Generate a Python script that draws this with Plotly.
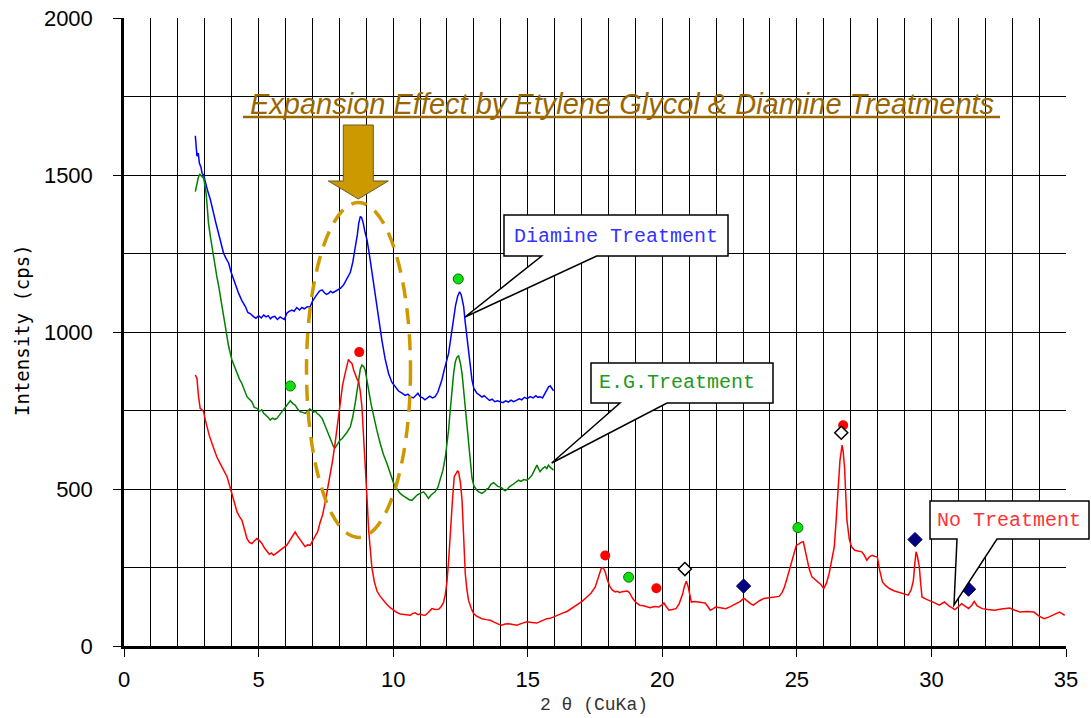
import plotly.graph_objects as go

# ---------------- data ----------------
blue_x = [2.65, 2.71, 2.76, 2.80, 2.86, 2.90, 2.96, 3.02, 3.10, 3.21, 3.27, 3.33, 3.40, 3.45, 3.52, 3.58, 3.64, 3.70,
          3.78, 3.89, 3.98, 4.07, 4.16, 4.26, 4.38, 4.51, 4.60, 4.70, 4.81, 4.90, 5.00, 5.10, 5.19, 5.28, 5.36, 5.44,
          5.50, 5.60, 5.70, 5.80, 5.87, 5.96, 6.05, 6.12, 6.24, 6.32, 6.42, 6.52, 6.61, 6.70, 6.80, 6.92, 7.00, 7.10,
          7.17, 7.26, 7.36, 7.45, 7.52, 7.60, 7.68, 7.76, 7.85, 7.95, 8.05, 8.16, 8.28, 8.41, 8.50, 8.60, 8.67, 8.72,
          8.78, 8.83, 8.88, 8.95, 9.03, 9.12, 9.21, 9.30, 9.40, 9.49, 9.58, 9.70, 9.83, 9.95, 10.08, 10.20, 10.33,
          10.45, 10.55, 10.64, 10.75, 10.85, 10.92, 11.00, 11.10, 11.18, 11.26, 11.36, 11.46, 11.56, 11.66, 11.74,
          11.81, 11.90, 11.98, 12.06, 12.15, 12.24, 12.32, 12.40, 12.47, 12.53, 12.58, 12.62, 12.68, 12.74, 12.82,
          12.88, 12.93, 13.00, 13.11, 13.20, 13.30, 13.38, 13.48, 13.58, 13.68, 13.78, 13.88, 13.98, 14.08, 14.18,
          14.28, 14.38, 14.47, 14.58, 14.68, 14.78, 14.88, 14.98, 15.09, 15.20, 15.30, 15.38, 15.46, 15.55, 15.62,
          15.71, 15.78, 15.84, 15.90, 15.96]
blue_y = [1625, 1560, 1570, 1538, 1525, 1506, 1500, 1475, 1452, 1421, 1395, 1378, 1352, 1336, 1318, 1293, 1276, 1251,
          1236, 1219, 1190, 1166, 1145, 1123, 1100, 1081, 1062, 1058, 1049, 1044, 1052, 1045, 1054, 1048, 1052, 1042,
          1047, 1050, 1040, 1048, 1044, 1040, 1060, 1065, 1070, 1066, 1078, 1070, 1078, 1074, 1080, 1081, 1098, 1113,
          1120, 1130, 1134, 1125, 1120, 1123, 1130, 1125, 1129, 1135, 1140, 1150, 1170, 1190, 1222, 1270, 1310, 1345,
          1368, 1364, 1350, 1320, 1293, 1245, 1198, 1140, 1081, 1025, 975, 915, 868, 840, 826, 812, 805,
          798, 802, 794, 790, 798, 805, 794, 790, 784, 789, 796, 790, 794, 808, 826,
          847, 880, 905, 932, 985, 1038, 1085, 1115, 1128, 1118, 1100, 1081, 1030, 985, 920,
          875, 847, 820, 805, 800, 793, 797, 789, 782, 786, 778, 781, 778, 775, 781,
          777, 783, 778, 782, 787, 784, 792, 788, 794, 790, 797, 792, 794, 790, 800,
          815, 826, 828, 818, 813]

green_x = [2.65, 2.70, 2.76, 2.82, 2.88, 2.96, 3.00, 3.05, 3.10, 3.14, 3.21, 3.27, 3.33, 3.40, 3.45, 3.52, 3.58, 3.64,
           3.70, 3.79, 3.89, 4.01, 4.10, 4.20, 4.29, 4.38, 4.48, 4.57, 4.66, 4.75, 4.84, 4.94, 5.04, 5.12, 5.19, 5.28,
           5.36, 5.43, 5.52, 5.60, 5.68, 5.78, 5.87, 5.93, 5.99, 6.08, 6.18, 6.27, 6.36, 6.45, 6.55, 6.64, 6.73, 6.83,
           6.90, 6.96, 7.05, 7.12, 7.17, 7.26, 7.36, 7.45, 7.54, 7.63, 7.73, 7.79, 7.85, 7.94, 8.03, 8.10, 8.16, 8.28,
           8.41, 8.50, 8.59, 8.66, 8.72, 8.78, 8.84, 8.90, 8.96, 9.03, 9.09, 9.18, 9.27, 9.40, 9.52, 9.64, 9.77, 9.90,
           10.02, 10.14, 10.26, 10.38, 10.51, 10.60, 10.70, 10.80, 10.88, 11.00, 11.13, 11.22, 11.31, 11.40, 11.50,
           11.56, 11.66, 11.75, 11.85, 11.94, 12.00, 12.06, 12.12, 12.18, 12.25, 12.31, 12.37, 12.43, 12.50, 12.56,
           12.62, 12.68, 12.74, 12.80, 12.86, 12.93, 13.00, 13.11, 13.20, 13.30, 13.40, 13.48, 13.54, 13.63, 13.73,
           13.82, 13.90, 13.98, 14.07, 14.16, 14.25, 14.33, 14.41, 14.50, 14.58, 14.66, 14.75, 14.85, 14.97, 15.06,
           15.16, 15.25, 15.34, 15.40, 15.46, 15.55, 15.65, 15.71, 15.77, 15.85, 15.96]
green_y = [1447, 1470, 1492, 1502, 1496, 1490, 1470, 1442, 1390, 1346, 1304, 1270, 1240, 1210, 1176, 1145, 1113, 1080,
           1049, 1006, 953, 911, 890, 868, 850, 836, 810, 794, 786, 778, 760, 757, 748, 752, 741, 735,
           728, 720, 726, 722, 725, 736, 746, 755, 762, 772, 781, 772, 767, 755, 746, 744, 741, 748,
           755, 751, 745, 748, 741, 735, 725, 706, 688, 665, 645, 634, 632, 645, 656, 660, 666, 680,
           698, 730, 773, 820, 857, 882, 895, 890, 879, 850, 815, 770, 730, 685, 645, 610, 581, 550,
           518, 500, 486, 478, 470, 466, 464, 472, 480, 486, 491, 482, 470, 480, 488,
           491, 505, 528, 560, 602, 640, 688, 750, 815, 870, 905, 920, 924, 900, 868,
           815, 762, 700, 634, 580, 535, 510, 496, 490, 486, 492, 500, 502, 515, 520,
           512, 508, 507, 500, 494, 500, 508, 512, 518, 524, 528, 524, 530, 528, 534,
           544, 560, 576, 565, 555, 565, 571, 565, 576, 568, 560]

red_x = [2.65, 2.71, 2.77, 2.83, 2.90, 2.96, 3.02, 3.08, 3.17, 3.27, 3.36, 3.45, 3.55, 3.64, 3.74, 3.83, 3.92, 4.01,
         4.10, 4.20, 4.29, 4.38, 4.48, 4.57, 4.66, 4.75, 4.85, 4.94, 5.04, 5.13, 5.22, 5.31, 5.40, 5.48, 5.56, 5.65,
         5.73, 5.81, 5.93, 6.05, 6.15, 6.24, 6.30, 6.36, 6.45, 6.55, 6.64, 6.73, 6.82, 6.92, 7.04, 7.11, 7.20, 7.29,
         7.38, 7.48, 7.57, 7.66, 7.75, 7.85, 7.94, 8.03, 8.12, 8.22, 8.28, 8.34, 8.40, 8.47, 8.53, 8.59, 8.66, 8.72,
         8.78, 8.84, 8.90, 8.96, 9.03, 9.09, 9.15, 9.21, 9.30, 9.40, 9.52, 9.64, 9.76, 9.89, 10.00, 10.13, 10.26,
         10.38, 10.50, 10.64, 10.73, 10.82, 10.92, 11.00, 11.10, 11.19, 11.30, 11.44, 11.56, 11.69, 11.78, 11.87,
         11.94, 12.00, 12.06, 12.12, 12.20, 12.27, 12.33, 12.39, 12.43, 12.50, 12.56, 12.62, 12.68, 12.74, 12.80,
         12.90, 12.99, 13.10, 13.20, 13.30, 13.45, 13.61, 13.75, 13.86, 13.95, 14.04, 14.16, 14.29, 14.45, 14.60,
         14.78, 14.97, 15.15, 15.34, 15.52, 15.71, 15.84, 16.08, 16.27, 16.46, 16.64, 16.83, 17.02, 17.20, 17.35,
         17.51, 17.60, 17.67, 17.73, 17.80, 17.88, 17.96, 18.06, 18.15, 18.25, 18.33, 18.42, 18.50, 18.60, 18.71,
         18.78, 18.90, 19.03, 19.16, 19.30, 19.45, 19.55, 19.70, 19.87, 20.00, 20.06, 20.15, 20.25, 20.38, 20.51,
         20.63, 20.76, 20.82, 20.89, 20.96, 21.02, 21.08, 21.20, 21.34, 21.45, 21.59, 21.70, 21.78, 21.88, 21.98,
         22.15, 22.36, 22.55, 22.75, 22.90, 23.00, 23.06, 23.12, 23.19, 23.29, 23.38, 23.50, 23.63, 23.77, 23.95,
         24.15, 24.34, 24.45, 24.54, 24.65, 24.79, 24.90, 24.98, 25.08, 25.16, 25.24, 25.30, 25.36, 25.46, 25.56,
         25.68, 25.81, 25.90, 26.00, 26.10, 26.20, 26.30, 26.39, 26.46, 26.52, 26.60, 26.68, 26.72, 26.77, 26.82,
         26.86, 26.95, 27.03, 27.15, 27.28, 27.41, 27.50, 27.60, 27.70, 27.80, 27.90, 27.99, 28.08, 28.18, 28.30,
         28.44, 28.60, 28.76, 28.95, 29.14, 29.25, 29.33, 29.38, 29.43, 29.48, 29.55, 29.60, 29.65, 29.78, 29.91,
         30.10, 30.29, 30.40, 30.48, 30.65, 30.87, 31.00, 31.12, 31.25, 31.38, 31.50, 31.59, 31.70, 31.89, 32.10,
         32.34, 32.60, 32.91, 33.10, 33.30, 33.55, 33.81, 34.00, 34.19, 34.35, 34.51, 34.65, 34.76, 34.85, 34.95]
red_y = [863, 852, 794, 757, 752, 746, 720, 698, 670, 645, 622, 602, 585, 571, 555, 539, 512, 486,
         455, 427, 412, 401, 370, 342, 330, 326, 335, 342, 335, 326, 312, 300, 292, 296, 289, 295,
         300, 305, 312, 321, 335, 347, 358, 363, 350, 337, 325, 316, 322, 321, 340, 353, 365, 395,
         418, 460, 500, 539, 590, 650, 710, 770, 830, 870, 895, 913, 905, 900, 880, 863, 850, 842,
         810, 762, 680, 581, 470, 369, 305, 250, 205, 175, 158, 144, 133, 122, 114, 107, 102,
         100, 99, 98, 104, 106, 100, 102, 99, 98, 106, 119, 116, 117, 125, 138,
         165, 205, 270, 369, 460, 539, 550, 557, 555, 520, 464, 340, 231, 180, 146,
         120, 103, 95, 90, 87, 84, 82, 76, 71, 68, 66, 70, 71, 68, 66,
         72, 77, 75, 73, 80, 87, 88, 98, 104, 110, 120, 130, 142, 156, 168,
         188, 210, 231, 247, 250, 236, 210, 188, 178, 172, 174, 170, 173, 175, 175,
         170, 151, 138, 130, 128, 125, 122, 126, 124, 132, 137, 125, 114, 116, 119,
         135, 167, 190, 206, 190, 167, 140, 142, 140, 138, 137, 125, 114, 118, 124,
         122, 119, 126, 135, 142, 150, 151, 146, 140, 134, 130, 138, 145, 151, 153,
         155, 158, 170, 188, 220, 263, 300, 321, 325, 330, 332, 310, 284, 245, 220,
         212, 204, 195, 183, 200, 231, 270, 316, 400, 496, 590, 640, 620, 571, 480,
         401, 340, 316, 305, 303, 300, 290, 273, 285, 289, 285, 284, 240, 204, 192,
         183, 176, 172, 165, 162, 180, 209, 260, 300, 285, 252, 200, 156, 150, 146,
         138, 130, 136, 140, 128, 116, 125, 135, 127, 119, 130, 142, 128, 119, 116,
         114, 118, 121, 114, 108, 110, 108, 95, 87, 92, 98, 104, 108, 103, 98]

# peak markers
green_dot_x = [6.18, 12.42, 18.75, 25.04]
green_dot_y = [828, 1169, 219, 377]
red_dot_x = [8.74, 17.88, 19.78, 26.72]
red_dot_y = [936, 288, 184, 703]
white_dia_x = [20.84, 26.65]
white_dia_y = [245, 679]
navy_dia_x = [23.02, 29.39, 31.38]
navy_dia_y = [191, 339, 181]

x_ticks = [0, 5, 10, 15, 20, 25, 30, 35]
y_ticks = [0, 500, 1000, 1500, 2000]

title_text = "Expansion Effect by Etylene Glycol & Diamine Treatments"
x_title = "2 θ (CuKa)"
y_title = "Intensity (cps)"

# ---------------- figure ----------------
W, H = 1091, 718
L, R, T, B = 124, 1066, 18, 646


def px(x):
    return (x - L) / (R - L)


def py(y):
    return (B - y) / (B - T)


fig = go.Figure()
fig.add_trace(go.Scatter(x=blue_x, y=blue_y, mode="lines", line=dict(color="#0000FF", width=1.5),
                         name="Diamine Treatment"))
fig.add_trace(go.Scatter(x=green_x, y=green_y, mode="lines", line=dict(color="#008000", width=1.5),
                         name="E.G.Treatment"))
fig.add_trace(go.Scatter(x=red_x, y=red_y, mode="lines", line=dict(color="#FF0000", width=1.5),
                         name="No Treatment"))
fig.add_trace(go.Scatter(x=green_dot_x, y=green_dot_y, mode="markers",
                         marker=dict(symbol="circle", size=10, color="#11DD11", line=dict(color="#007700", width=1))))
fig.add_trace(go.Scatter(x=red_dot_x, y=red_dot_y, mode="markers",
                         marker=dict(symbol="circle", size=10, color="#FF0000", line=dict(color="#FF0000", width=0))))
fig.add_trace(go.Scatter(x=white_dia_x, y=white_dia_y, mode="markers",
                         marker=dict(symbol="diamond", size=10, color="white", line=dict(color="black", width=1.5))))
fig.add_trace(go.Scatter(x=navy_dia_x, y=navy_dia_y, mode="markers",
                         marker=dict(symbol="diamond", size=11, color="#000080", line=dict(color="#000060", width=1))))

shapes = []
# white title background
shapes.append(dict(type="rect", xref="paper", yref="paper", x0=px(230), x1=px(1032), y0=py(126), y1=py(77),
                   fillcolor="white", line=dict(width=0), layer="between"))
# underline of title
shapes.append(dict(type="line", xref="paper", yref="paper", x0=px(243), x1=px(1000), y0=py(117), y1=py(117),
                   line=dict(color="#996600", width=2.5), layer="above"))
# block arrow
arrow = [(343.3, 125), (373.3, 125), (373.3, 181), (388.3, 181), (358.3, 199), (328.3, 181), (343.3, 181)]
path = "M " + " L ".join(f"{px(a):.5f},{py(b):.5f}" for a, b in arrow) + " Z"
shapes.append(dict(type="path", xref="paper", yref="paper", path=path, fillcolor="#CC9900",
                   line=dict(color="#6b5a2a", width=1), layer="above"))
# dashed ellipse
shapes.append(dict(type="circle", xref="paper", yref="paper", x0=px(306.5), x1=px(410.5), y0=py(537.5),
                   y1=py(202.5), line=dict(color="#CC9900", width=3.5, dash="16px,10px"), layer="above"))


def callout(l, t, r, b, w1, w2, tx, ty):
    pts = [(l, t), (r, t), (r, b), (w2, b), (tx, ty), (w1, b), (l, b)]
    p = "M " + " L ".join(f"{px(a):.5f},{py(c):.5f}" for a, c in pts) + " Z"
    return dict(type="path", xref="paper", yref="paper", path=p, fillcolor="white",
                line=dict(color="black", width=1.5), layer="above")


shapes.append(callout(504, 215, 728, 256, 541.7, 596.7, 465, 317))
shapes.append(callout(591, 363, 773, 403, 620, 667, 551.7, 463))
shapes.append(callout(930, 501, 1089, 539, 957, 997, 954, 605))

annotations = [
    dict(text=title_text, xref="paper", yref="paper", x=px(621.5), y=py(104), showarrow=False,
         xanchor="center", yanchor="middle",
         font=dict(family="Liberation Sans, Arial, sans-serif", size=29, color="#996600", style="italic")),
    dict(text="Diamine Treatment", xref="paper", yref="paper", x=px(616), y=py(236), showarrow=False,
         xanchor="center", yanchor="middle",
         font=dict(family="Liberation Mono, monospace", size=20, color="#3333FF")),
    dict(text="E.G.Treatment", xref="paper", yref="paper", x=px(677), y=py(383), showarrow=False,
         xanchor="center", yanchor="middle",
         font=dict(family="Liberation Mono, monospace", size=20, color="#229922")),
    dict(text="No Treatment", xref="paper", yref="paper", x=px(1009), y=py(520), showarrow=False,
         xanchor="center", yanchor="middle",
         font=dict(family="Liberation Mono, monospace", size=20, color="#FF3333")),
    dict(text=x_title, xref="paper", yref="paper", x=px(594), y=py(705), showarrow=False,
         xanchor="center", yanchor="middle",
         font=dict(family="Liberation Mono, monospace", size=18, color="#333333")),
    dict(text=y_title, xref="paper", yref="paper", x=px(22), y=py(330), showarrow=False, textangle=-90,
         xanchor="center", yanchor="middle",
         font=dict(family="DejaVu Sans Mono, monospace", size=19, color="black")),
]

tick_font = dict(family="Liberation Sans, Arial, sans-serif", size=22, color="black")
fig.update_layout(
    width=W, height=H, margin=dict(l=L, r=W - R, t=T, b=H - B, autoexpand=False),
    paper_bgcolor="white", plot_bgcolor="white", showlegend=False,
    shapes=shapes, annotations=annotations,
    xaxis=dict(range=[0, 35], tickmode="array", tickvals=x_ticks, ticks="outside", ticklen=8, tickwidth=1,
               tickcolor="black", showgrid=True, gridcolor="black", gridwidth=1, zeroline=False, automargin=False,
               showline=True, linecolor="black", linewidth=2.5, tickfont=tick_font, ticklabelstandoff=4,
               minor=dict(dtick=1, tick0=0, showgrid=True, gridcolor="black", gridwidth=1, ticks="")),
    yaxis=dict(range=[0, 2000], tickmode="array", tickvals=y_ticks, ticks="outside", ticklen=8, tickwidth=1,
               tickcolor="black", showgrid=True, gridcolor="black", gridwidth=1, zeroline=False, automargin=False,
               showline=True, linecolor="black", linewidth=2.5, tickfont=tick_font, ticklabelstandoff=16,
               minor=dict(dtick=250, tick0=0, showgrid=True, gridcolor="black", gridwidth=1, ticks="")),
)

fig.write_html("out.html")
